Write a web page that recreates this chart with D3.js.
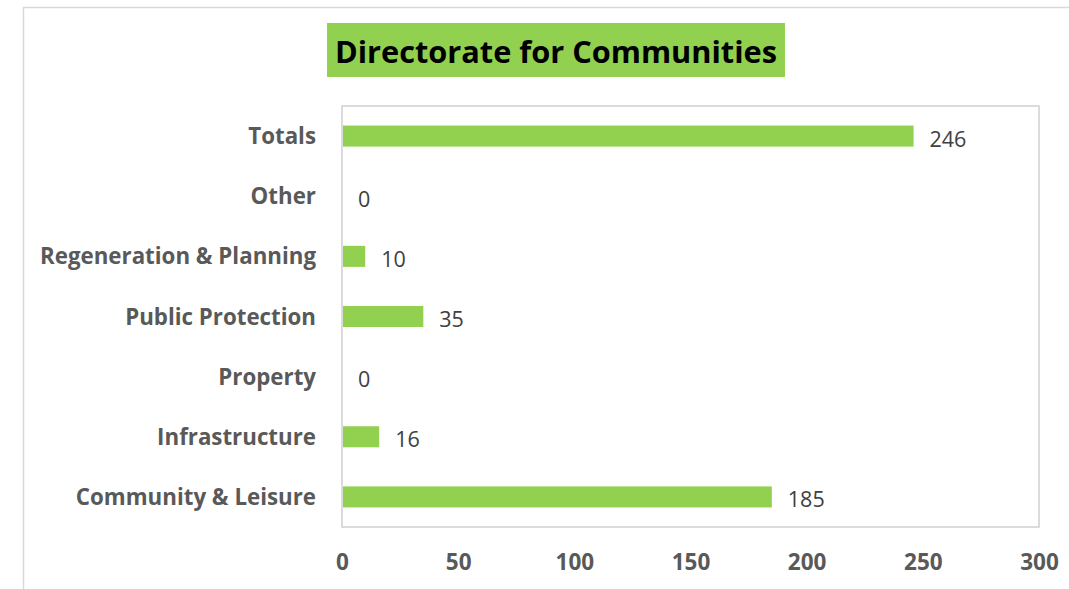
<!DOCTYPE html>
<html>
<head>
<meta charset="utf-8">
<script src="https://cdn.jsdelivr.net/npm/d3@7"></script>
<style>
  html, body { margin: 0; padding: 0; background: #ffffff; }
  svg { display: block; }
</style>
</head>
<body>
<svg id="chart" width="1069" height="589"></svg>
<script>
// Staff numbers per service area, top to bottom as listed
const categories = ["Totals", "Other", "Regeneration & Planning", "Public Protection", "Property", "Infrastructure", "Community & Leisure"];
const values = [246, 0, 10, 35, 0, 16, 185];
const xTicks = [0, 50, 100, 150, 200, 250, 300];
const titleText = "Directorate for Communities";

const W = 1069, H = 589;
const plot = { left: 342, top: 106, right: 1039, bottom: 527 };
const green = "#92d050";

const svg = d3.select("#chart");

// outer chart frame
svg.append("rect")
  .attr("x", 23.5).attr("y", 7.5)
  .attr("width", W).attr("height", H)
  .attr("fill", "#ffffff")
  .attr("stroke", "#d9d9d9").attr("stroke-width", 1.5);

// title with green highlight
const titleBox = { x: 327, y: 23, w: 458, h: 54 };
svg.append("rect")
  .attr("x", titleBox.x).attr("y", titleBox.y)
  .attr("width", titleBox.w).attr("height", titleBox.h)
  .attr("fill", green);
svg.append("text")
  .attr("x", titleBox.x + titleBox.w / 2).attr("y", titleBox.y + titleBox.h / 2 + 1)
  .attr("text-anchor", "middle").attr("dominant-baseline", "central")
  .attr("font-family", "'Open Sans', sans-serif").attr("font-weight", 700)
  .attr("font-size", 31).attr("fill", "#000000")
  .attr("textLength", 442).attr("lengthAdjust", "spacingAndGlyphs")
  .text(titleText);

const x = d3.scaleLinear().domain([0, 300]).range([plot.left, plot.right]);
const y = d3.scaleBand().domain(categories).range([plot.top, plot.bottom]).paddingInner(0.65).paddingOuter(0.325);

// plot area border
svg.append("rect")
  .attr("x", plot.left).attr("y", plot.top)
  .attr("width", plot.right - plot.left).attr("height", plot.bottom - plot.top)
  .attr("fill", "none").attr("stroke", "#d0d0d0").attr("stroke-width", 1.5);

// bars
svg.append("g").selectAll("rect")
  .data(categories)
  .join("rect")
  .attr("x", x(0) + 1)
  .attr("y", d => y(d))
  .attr("width", (d, i) => Math.max(0, x(values[i]) - x(0) - 1))
  .attr("height", y.bandwidth())
  .attr("fill", green);

// value labels
svg.append("g").selectAll("text")
  .data(categories)
  .join("text")
  .attr("x", (d, i) => x(values[i]) + 16)
  .attr("y", d => y(d) + y.bandwidth() / 2 + 2)
  .attr("dominant-baseline", "central")
  .attr("font-family", "'Open Sans', sans-serif")
  .attr("font-size", 21.5).attr("fill", "#404040")
  .text((d, i) => values[i]);

// category axis
const yAxis = svg.append("g")
  .attr("transform", `translate(${plot.left - 26},1)`)
  .call(d3.axisLeft(y).tickSize(0).tickPadding(0));
yAxis.select(".domain").remove();
yAxis.selectAll("text")
  .attr("font-family", "'Open Sans', sans-serif").attr("font-weight", 700)
  .attr("font-size", 22.3).attr("fill", "#595959");

// value axis
const xAxis = svg.append("g")
  .attr("transform", `translate(0,${plot.bottom})`)
  .call(d3.axisBottom(x).tickValues(xTicks).tickSize(0).tickPadding(27));
xAxis.select(".domain").remove();
xAxis.selectAll("text")
  .attr("font-family", "'Open Sans', sans-serif").attr("font-weight", 700)
  .attr("font-size", 22.5).attr("fill", "#595959");
</script>
</body>
</html>
